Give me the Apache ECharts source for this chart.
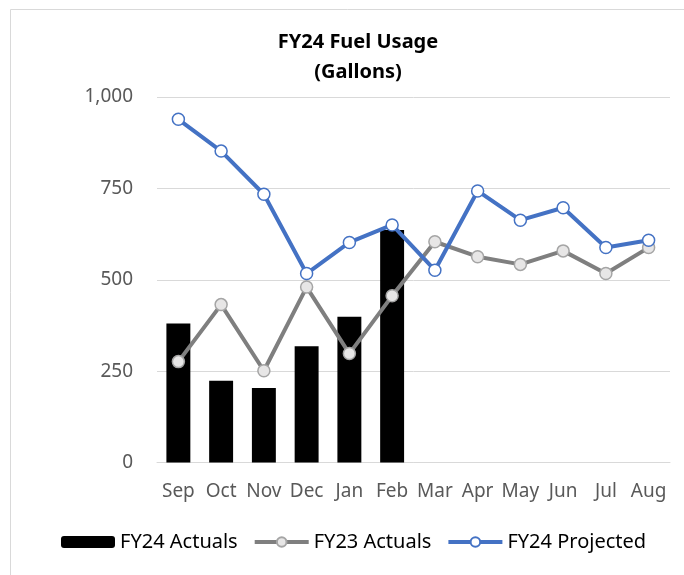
<!DOCTYPE html>
<html>
<head>
<meta charset="utf-8">
<script src="https://cdn.jsdelivr.net/npm/echarts@6/dist/echarts.min.js"></script>
<style>
  html, body { margin: 0; padding: 0; background: #fff; }
  #chart { width: 684px; height: 575px; }
</style>
</head>
<body>
<div id="chart"></div>
<script>
const months = ['Sep', 'Oct', 'Nov', 'Dec', 'Jan', 'Feb', 'Mar', 'Apr', 'May', 'Jun', 'Jul', 'Aug'];
const fy24Actuals = [380, 224, 204, 318, 399, 636, null, null, null, null, null, null];
const fy23Actuals = [276, 432, 251, 480, 298, 456, 604, 563, 542, 579, 517, 588];
const fy24Projected = [939, 852, 734, 517, 602, 650, 526, 743, 663, 697, 588, 608];
const yTicks = [0, 250, 500, 750, 1000];

const font = '"Noto Sans", "Open Sans", sans-serif';
const chart = echarts.init(document.getElementById('chart'));

const option = {
  animation: false,
  textStyle: { fontFamily: font },
  title: {
    text: 'FY24 Fuel Usage\n(Gallons)',
    left: 353,
    top: 22,
    textAlign: 'center',
    textStyle: { fontSize: 20, fontWeight: 'bold', color: '#000', lineHeight: 30, fontFamily: font }
  },
  graphic: [{
    type: 'rect',
    shape: { x: 10.5, y: 9.5, width: 720, height: 620 },
    style: { fill: 'none', stroke: '#d9d9d9', lineWidth: 1 },
    silent: true
  }],
  legend: {
    bottom: 18,
    left: 56,
    itemWidth: 54,
    itemHeight: 12,
    itemGap: 15,
    lineStyle: { width: 4 },
    textStyle: { fontSize: 20, color: '#000', fontFamily: font },
    data: ['FY24 Actuals', 'FY23 Actuals', 'FY24 Projected']
  },
  grid: { left: 157, right: 14, top: 97, bottom: 112.5 },
  xAxis: {
    type: 'category',
    data: months,
    axisLine: { lineStyle: { color: '#d9d9d9' } },
    axisTick: { show: false },
    axisLabel: { color: '#595959', fontSize: 19, margin: 20, interval: 0 }
  },
  yAxis: {
    type: 'value',
    min: yTicks[0],
    max: yTicks[yTicks.length - 1],
    interval: 250,
    axisLine: { show: false },
    axisTick: { show: false },
    splitLine: { lineStyle: { color: '#d9d9d9' } },
    axisLabel: {
      color: '#595959',
      fontSize: 19,
      margin: 24,
      formatter: v => v.toLocaleString('en-US')
    }
  },
  series: [
    {
      name: 'FY24 Actuals',
      type: 'bar',
      data: fy24Actuals,
      barCategoryGap: '44%',
      itemStyle: { color: '#000' }
    },
    {
      name: 'FY23 Actuals',
      type: 'line',
      data: fy23Actuals,
      symbol: 'circle',
      symbolSize: 12,
      lineStyle: { color: '#7f7f7f', width: 4 },
      itemStyle: { color: '#e7e6e6', borderColor: '#a5a5a5', borderWidth: 1.5 }
    },
    {
      name: 'FY24 Projected',
      type: 'line',
      data: fy24Projected,
      symbol: 'circle',
      symbolSize: 12,
      lineStyle: { color: '#4472c4', width: 4 },
      itemStyle: { color: '#fff', borderColor: '#4472c4', borderWidth: 1.5 }
    }
  ]
};

chart.setOption(option);
</script>
</body>
</html>
